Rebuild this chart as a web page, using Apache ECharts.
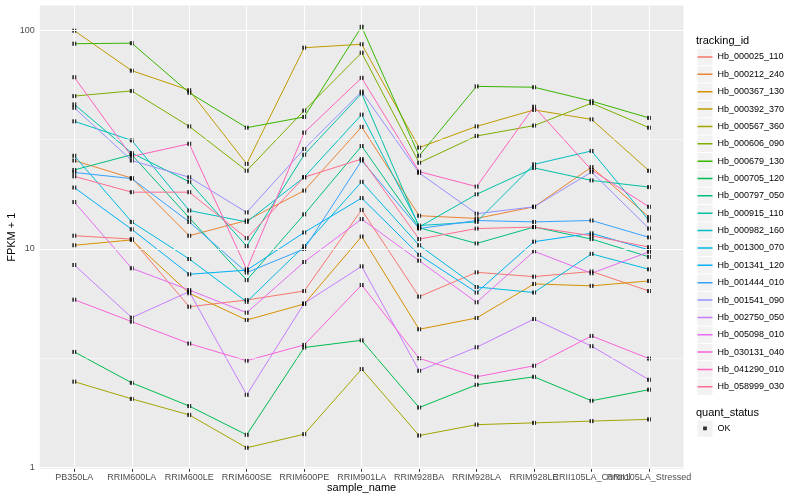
<!DOCTYPE html>
<html><head><meta charset="utf-8">
<script src="https://cdn.jsdelivr.net/npm/echarts@6/dist/echarts.min.js"></script>
<style>html,body{margin:0;padding:0;background:#fff}#c{width:800px;height:500px}</style>
</head><body><div id="c"></div>
<script>
// ---- data ----
const categories = ['PB350LA','RRIM600LA','RRIM600LE','RRIM600SE','RRIM600PE','RRIM901LA','RRIM928BA','RRIM928LA','RRIM928LE','RRII105LA_Control','RRII105LA_Stressed'];
const trackingIds = ['Hb_000025_110','Hb_000212_240','Hb_000367_130','Hb_000392_370','Hb_000567_360','Hb_000606_090','Hb_000679_130','Hb_000705_120','Hb_000797_050','Hb_000915_110','Hb_000982_160','Hb_001300_070','Hb_001341_120','Hb_001444_010','Hb_001541_090','Hb_002750_050','Hb_005098_010','Hb_030131_040','Hb_041290_010','Hb_058999_030'];
const yTicks = [1, 10, 100];
const yMinorGrid = [3.1623, 31.623];

const Hb_000025_110 = [11.5, 11.1, 5.44, 5.84, 6.42, 15.1, 6.05, 7.82, 7.47, 7.89, 6.42];
const Hb_000212_240 = [25.4, 21.1, 11.5, 13.5, 18.5, 36.2, 14.2, 13.8, 15.6, 23.7, 14.0];
const Hb_000367_130 = [10.4, 11.0, 6.27, 4.73, 5.6, 11.4, 4.29, 4.83, 6.92, 6.78, 7.14];
const Hb_000392_370 = [99.8, 65.5, 53.3, 24.5, 83.4, 86.5, 29.1, 36.4, 43.3, 39.2, 22.8];
const Hb_000567_360 = [2.47, 2.06, 1.74, 1.23, 1.42, 2.82, 1.40, 1.57, 1.60, 1.63, 1.66];
const Hb_000606_090 = [50.1, 52.9, 36.4, 22.8, 43.0, 79.1, 24.8, 32.9, 36.7, 46.5, 35.9];
const Hb_000679_130 = [87.0, 87.5, 51.9, 35.9, 40.2, 104, 26.7, 55.5, 55.0, 47.5, 39.8];
const Hb_000705_120 = [3.38, 2.44, 1.91, 1.41, 3.54, 3.82, 1.88, 2.39, 2.60, 2.02, 2.27];
const Hb_000797_050 = [23.0, 27.0, 13.9, 7.2, 14.4, 29.6, 12.5, 10.6, 12.6, 11.1, 9.2];
const Hb_000915_110 = [45.9, 27.5, 20.3, 10.3, 27.0, 51.5, 12.6, 17.8, 23.5, 20.6, 19.2];
const Hb_000982_160 = [38.4, 31.4, 15.0, 13.3, 21.3, 41.2, 12.8, 13.3, 24.4, 28.1, 13.5];
const Hb_001300_070 = [26.7, 13.3, 9.0, 5.73, 10.3, 20.3, 10.4, 6.7, 6.32, 9.5, 8.07];
const Hb_001341_120 = [19.1, 12.3, 7.66, 8.0, 11.9, 17.1, 9.4, 6.32, 10.8, 11.8, 9.9];
const Hb_001444_010 = [22.4, 21.0, 13.3, 7.8, 10.0, 25.4, 12.4, 13.5, 13.3, 13.5, 11.3];
const Hb_001541_090 = [44.3, 25.4, 21.3, 14.7, 28.7, 52.5, 22.3, 14.5, 15.6, 22.5, 12.4];
const Hb_002750_050 = [8.45, 4.85, 6.38, 2.15, 5.64, 8.33, 2.77, 3.55, 4.78, 3.59, 2.52];
const Hb_005098_010 = [16.4, 8.16, 6.49, 5.11, 8.72, 13.7, 8.84, 5.70, 9.76, 7.74, 9.7];
const Hb_030131_040 = [5.86, 4.65, 3.69, 3.08, 3.64, 6.84, 3.16, 2.60, 2.92, 4.0, 3.15];
const Hb_041290_010 = [61.1, 26.5, 30.3, 8.07, 34.1, 60.7, 22.6, 19.3, 44.8, 23.0, 15.6];
const Hb_058999_030 = [21.5, 18.2, 18.2, 11.2, 21.3, 25.8, 11.1, 12.4, 12.6, 11.5, 10.2];

const seriesValues = [Hb_000025_110, Hb_000212_240, Hb_000367_130, Hb_000392_370, Hb_000567_360, Hb_000606_090, Hb_000679_130, Hb_000705_120, Hb_000797_050, Hb_000915_110, Hb_000982_160, Hb_001300_070, Hb_001341_120, Hb_001444_010, Hb_001541_090, Hb_002750_050, Hb_005098_010, Hb_030131_040, Hb_041290_010, Hb_058999_030];

// ---- style ----
const colors = ['#F8766D','#EA8331','#D89000','#C09B00','#A3A500','#7CAE00','#39B600','#00BB4E','#00BF7D','#00C1A3','#00BFC4','#00BAE0','#00B0F6','#35A2FF','#9590FF','#C77CFF','#E76BF3','#FA62DB','#FF62BC','#FF6C91'];
const FONT = '"Liberation Sans", Arial, Helvetica, sans-serif';
const PANEL = {left: 39.8, right: 683.5, top: 5.6, bottom: 468.8};
const LEG = {x: 697.5, top: 48.3, step: 17.36};
const LINE_ICON = 'path://M0,0h0.01v0.01h-0.01z M0,6.25h15v1.5h-15z M14.99,13.99h0.01v0.01h-0.01z';
const DOT_ICON = 'path://M0,0h0.01v0.01h-0.01z M5.6,5.1h3.8v3.8h-3.8z M14.99,13.99h0.01v0.01h-0.01z';

const chart = echarts.init(document.getElementById('c'), null, {renderer: 'canvas'});

const lineSeries = trackingIds.map((id, k) => ({
  name: id, type: 'line', z: 3, silent: true, animation: false,
  symbol: 'none',
  data: seriesValues[k].map((v, i) => [i, v]),
  lineStyle: {width: 1, color: colors[k]},
  itemStyle: {color: colors[k]}
}));

const points = [];
seriesValues.forEach(arr => arr.forEach((v, i) => points.push([i, v])));

const gridLines = [];
yTicks.forEach(v => gridLines.push({yAxis: v, lineStyle: {width: 1.1}}));
yMinorGrid.forEach(v => gridLines.push({yAxis: v, lineStyle: {width: 0.5}}));
categories.forEach((c, i) => gridLines.push({xAxis: i, lineStyle: {width: 1.1}}));

const keyBoxes = trackingIds.map((id, k) => ({
  type: 'rect', z: 0,
  shape: {x: LEG.x, y: LEG.top + k * LEG.step + 0.5, width: 15, height: LEG.step - 1},
  style: {fill: '#F2F2F2'}
}));

const catIdx = categories.map((c, i) => i);
const evenIdx = catIdx.filter(i => i % 2 === 0);
const oddIdx = catIdx.filter(i => i % 2 === 1);

function xAxisDef(values, withName) {
  const a = {
    type: 'value', min: -0.6, max: 10.6, position: 'bottom', offset: 0,
    axisLine: {show: false}, splitLine: {show: false},
    axisTick: {show: true, length: 3, lineStyle: {color: '#333333', width: 1}, customValues: values},
    axisLabel: {customValues: values, formatter: v => categories[Math.round(v)] || '',
                fontSize: 9, color: '#4D4D4D', margin: 4, fontFamily: FONT, hideOverlap: false,
                showMinLabel: true, showMaxLabel: true}
  };
  if (withName) {
    a.name = 'sample_name'; a.nameLocation = 'middle'; a.nameGap = 14; a.nameMoveOverlap = false;
    a.nameTextStyle = {fontSize: 11, color: '#000', fontFamily: FONT};
  }
  return a;
}

const option = {
  animation: false,
  textStyle: {fontFamily: FONT},
  grid: {left: PANEL.left, width: PANEL.right - PANEL.left, top: PANEL.top, height: PANEL.bottom - PANEL.top,
         show: true, backgroundColor: '#EBEBEB', borderWidth: 0, containLabel: false, outerBoundsMode: 'none'},
  xAxis: [xAxisDef(evenIdx, true), xAxisDef(oddIdx, false)],
  yAxis: {
    type: 'log', logBase: 10, min: 0.986, max: 130,
    axisLine: {show: false}, splitLine: {show: false},
    axisTick: {show: true, length: 3, lineStyle: {color: '#333333', width: 1}, customValues: yTicks},
    axisLabel: {customValues: yTicks, fontSize: 9, color: '#4D4D4D', margin: 5, fontFamily: FONT,
                showMinLabel: true, showMaxLabel: true,
                formatter: v => { const l = Math.log10(v); return Math.abs(l - Math.round(l)) < 1e-6 ? String(Math.round(v)) : ''; }},
    name: 'FPKM + 1', nameLocation: 'middle', nameGap: 22, nameMoveOverlap: false,
    nameTextStyle: {fontSize: 11, color: '#000', fontFamily: FONT}
  },
  legend: [
    {data: trackingIds.map(id => ({name: id, icon: LINE_ICON})), orient: 'vertical', left: LEG.x, top: LEG.top + 1.68, padding: 0,
     itemWidth: 15, itemHeight: 14, itemGap: LEG.step - 14, selectedMode: false,
     textStyle: {fontSize: 9, color: '#000', fontFamily: FONT}},
    {data: [{name: 'OK', icon: DOT_ICON}],
     orient: 'vertical', left: LEG.x, top: 421.3, padding: 0,
     itemWidth: 15, itemHeight: 14, selectedMode: false,
     textStyle: {fontSize: 9, color: '#000', fontFamily: FONT}}
  ],
  graphic: [
    ...keyBoxes,
    {type: 'rect', z: 0, shape: {x: LEG.x, y: 420.5, width: 15, height: 16.4}, style: {fill: '#F2F2F2'}},
    {type: 'text', z: 1, x: 696, y: 40.7, style: {text: 'tracking_id', fontSize: 11, fill: '#000', fontFamily: FONT, verticalAlign: 'middle'}},
    {type: 'text', z: 1, x: 696, y: 412.7, style: {text: 'quant_status', fontSize: 11, fill: '#000', fontFamily: FONT, verticalAlign: 'middle'}}
  ],
  series: [
    {type: 'line', name: '_grid', data: [], z: 1, silent: true,
     markLine: {silent: true, symbol: 'none', animation: false, label: {show: false},
                lineStyle: {color: '#FFFFFF', type: 'solid'}, data: gridLines}},
    ...lineSeries,
    {name: 'OK', type: 'scatter', z: 4, silent: true, symbol: 'rect', symbolSize: 4,
     itemStyle: {color: '#000000'}, data: points}
  ]
};
chart.setOption(option);
</script></body></html>
